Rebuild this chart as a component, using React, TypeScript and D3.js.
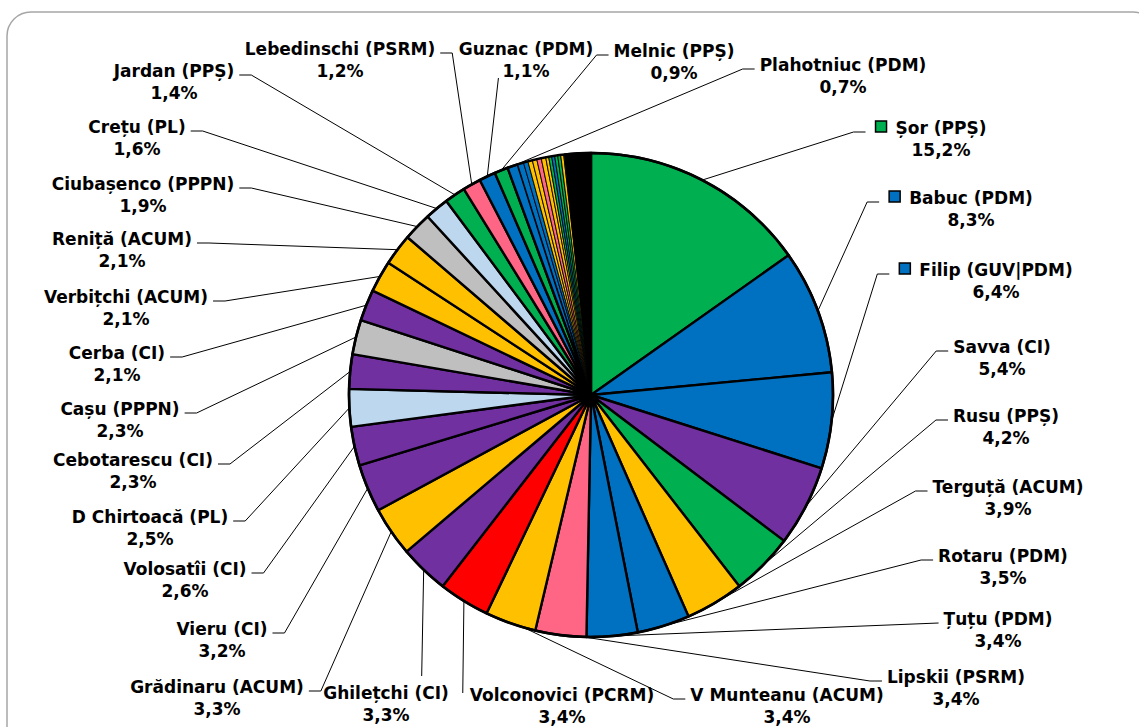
import React, { useEffect, useRef } from 'react';
import * as d3 from 'd3';

const W = 1139;
const H = 727;

// ---- data ----
const candidates = [
  'Șor', 'Babuc', 'Filip', 'Savva', 'Rusu', 'Terguță', 'Rotaru', 'Țuțu', 'Lipskii',
  'V Munteanu', 'Volconovici', 'Ghilețchi', 'Grădinaru', 'Vieru', 'Volosatîi',
  'D Chirtoacă', 'Cebotarescu', 'Cașu', 'Cerba', 'Verbițchi', 'Reniță', 'Ciubașenco',
  'Crețu', 'Jardan', 'Lebedinschi', 'Guznac', 'Melnic', 'Plahotniuc',
];
const parties = [
  'PPȘ', 'PDM', 'GUV|PDM', 'CI', 'PPȘ', 'ACUM', 'PDM', 'PDM', 'PSRM',
  'ACUM', 'PCRM', 'CI', 'ACUM', 'CI', 'CI',
  'PL', 'CI', 'PPPN', 'CI', 'ACUM', 'ACUM', 'PPPN',
  'PL', 'PPȘ', 'PSRM', 'PDM', 'PPȘ', 'PDM',
];
const shares = [
  15.2, 8.3, 6.4, 5.4, 4.2, 3.9, 3.5, 3.4, 3.4,
  3.4, 3.4, 3.3, 3.3, 3.2, 2.6,
  2.5, 2.3, 2.3, 2.1, 2.1, 2.1, 1.9,
  1.6, 1.4, 1.2, 1.1, 0.9, 0.7,
];
// unlabeled small candidates near the top of the pie
const minorParties = ['PDM', 'PDM', 'ACUM', 'ACUM', 'PSRM', 'ACUM', 'ACUM', 'PPȘ', 'PDM', 'PPȘ', 'PPȘ', 'ACUM', 'PDM'];
const minorShares = [0.4, 0.3, 0.3, 0.3, 0.3, 0.3, 0.2, 0.2, 0.2, 0.2, 0.2, 0.2, 0.1];
const othersShare = 1.7;

const partyNames = ['PPȘ', 'PDM', 'GUV|PDM', 'CI', 'ACUM', 'PSRM', 'PCRM', 'PL', 'PPPN', 'Alții'];
const partyColors = ['#00B050', '#0070C0', '#0070C0', '#7030A0', '#FFC000', '#FF6685', '#FF0000', '#BDD7EE', '#BFBFBF', '#000000'];
const keyedCandidates = ['Șor', 'Babuc', 'Filip'];

// ---- layout of the labels (centre x, first baseline, how the leader attaches) ----
type Lay = { cx: number; y: number; mode: string; anchor?: number };
const labelLayout: Lay[] = [
  { cx: 941, y: 134, mode: 'R' },
  { cx: 971, y: 204, mode: 'R' },
  { cx: 996, y: 276, mode: 'R' },
  { cx: 1002, y: 353, mode: 'R' },
  { cx: 1006, y: 422, mode: 'R' },
  { cx: 1008, y: 493, mode: 'R' },
  { cx: 1003, y: 562, mode: 'R' },
  { cx: 998, y: 625, mode: 'R0' },
  { cx: 956, y: 683, mode: 'R', anchor: 0.06 },
  { cx: 787, y: 701, mode: 'R', anchor: 0.24 },
  { cx: 562, y: 701, mode: 'V' },
  { cx: 386, y: 699, mode: 'T' },
  { cx: 217, y: 693, mode: 'L' },
  { cx: 222, y: 635, mode: 'L' },
  { cx: 185, y: 575, mode: 'L' },
  { cx: 150, y: 523, mode: 'L' },
  { cx: 133, y: 466, mode: 'L' },
  { cx: 120, y: 415, mode: 'L' },
  { cx: 117, y: 359, mode: 'L' },
  { cx: 126, y: 303, mode: 'L' },
  { cx: 122, y: 245, mode: 'L' },
  { cx: 143, y: 190, mode: 'L' },
  { cx: 137, y: 133, mode: 'L' },
  { cx: 174, y: 77, mode: 'L' },
  { cx: 340, y: 55, mode: 'L' },
  { cx: 526, y: 55, mode: 'G' },
  { cx: 674, y: 57, mode: 'R' },
  { cx: 843, y: 71, mode: 'R' },
];

const CX = 591;
const CY = 395;
const R = 242;
const LINE = 22;
const FONT = 'DejaVu Sans, Verdana, sans-serif';

type Slice = { name: string; party: string; share: number; labeled: boolean };

const fmtLocale = d3.formatLocale({ decimal: ',', thousands: '.', grouping: [3], currency: ['', ''] });
const fmtPct = (v: number) => fmtLocale.format('.1f')(v) + '%';

export default function App() {
  const ref = useRef<SVGSVGElement>(null);

  useEffect(() => {
    const svg = d3.select(ref.current);
    svg.selectAll('*').remove();

    svg.append('rect')
      .attr('x', 7).attr('y', 12).attr('width', 1150).attr('height', 740)
      .attr('rx', 24).attr('ry', 24)
      .attr('fill', '#fff').attr('stroke', '#A6A6A6').attr('stroke-width', 1.5);

    const slices: Slice[] = [
      ...candidates.map((n, i) => ({ name: n, party: parties[i], share: shares[i], labeled: true })),
      ...minorShares.map((s, i) => ({ name: '', party: minorParties[i], share: s, labeled: false })),
      { name: 'Alții', party: 'Alții', share: othersShare, labeled: false },
    ];

    const color = d3.scaleOrdinal<string, string>().domain(partyNames).range(partyColors);
    const pie = d3.pie<Slice>().sort(null).value((d) => d.share);
    const arcs = pie(slices);
    const arcGen = d3.arc<d3.PieArcDatum<Slice>>().innerRadius(0).outerRadius(R);

    const g = svg.append('g').attr('transform', `translate(${CX},${CY})`);
    g.selectAll('path.slice')
      .data(arcs)
      .join('path')
      .attr('class', 'slice')
      .attr('d', arcGen as any)
      .attr('fill', (d) => color(d.data.party))
      .attr('stroke', '#000')
      .attr('stroke-width', (d) => (d.data.labeled || d.data.party === 'Alții' ? 2.4 : 0.9))
      .attr('stroke-linejoin', 'round');
    g.append('circle').attr('r', R).attr('fill', 'none').attr('stroke', '#000').attr('stroke-width', 2.6);

    const labels = svg.append('g')
      .attr('font-family', FONT)
      .attr('font-weight', 'bold')
      .attr('font-size', 17)
      .attr('fill', '#000');

    arcs.forEach((a, i) => {
      if (!a.data.labeled) return;
      const lay = labelLayout[i];
      const frac = lay.anchor ?? 0.5;
      const ang = a.startAngle + (a.endAngle - a.startAngle) * frac;
      const tx = CX + R * Math.sin(ang);
      const ty = CY - R * Math.cos(ang);

      const lg = labels.append('g');
      const t1 = lg.append('text').attr('x', lay.cx).attr('y', lay.y).attr('text-anchor', 'middle')
        .text(`${a.data.name} (${a.data.party})`);
      const t2 = lg.append('text').attr('x', lay.cx).attr('y', lay.y + LINE).attr('text-anchor', 'middle')
        .text(fmtPct(a.data.share));
      const w1 = (t1.node() as SVGTextElement).getComputedTextLength();
      const w2 = (t2.node() as SVGTextElement).getComputedTextLength();
      const left1 = lay.cx - w1 / 2;
      const right1 = lay.cx + w1 / 2;
      const left2 = lay.cx - w2 / 2;

      let leftEdge = left1;
      let gap = 5;
      if (keyedCandidates.includes(a.data.name)) {
        const kx = left1 - 9 - 11;
        lg.append('rect').attr('x', kx).attr('y', lay.y - 13).attr('width', 11).attr('height', 11)
          .attr('fill', color(a.data.party)).attr('stroke', '#000').attr('stroke-width', 1.5);
        leftEdge = kx;
        gap = 10;
      }

      let pts: [number, number][] = [];
      const sy = lay.y - 2;
      if (lay.mode === 'L') {
        pts = [[right1 + 5, sy], [right1 + 17, sy], [tx, ty]];
      } else if (lay.mode === 'R') {
        pts = [[leftEdge - gap, sy], [leftEdge - gap - 12, sy], [tx, ty]];
      } else if (lay.mode === 'R0') {
        pts = [[leftEdge - 5, sy], [tx, ty]];
      } else if (lay.mode === 'G') {
        pts = [[left2 - 4, lay.y + LINE + 1], [tx, ty]];
      } else if (lay.mode === 'V') {
        pts = [[left1 - 7, lay.y - 8], [tx, ty]];
      } else if (lay.mode === 'T') {
        pts = [[tx - 2, lay.y - 23], [tx, ty]];
      }
      svg.append('path')
        .attr('d', d3.line()(pts) as string)
        .attr('fill', 'none')
        .attr('stroke', '#000')
        .attr('stroke-width', 1);
    });
  }, []);

  return (
    <svg
      ref={ref}
      width={W}
      height={H}
      viewBox={`0 0 ${W} ${H}`}
      style={{ position: 'absolute', left: 0, top: 0, background: '#fff' }}
    />
  );
}
